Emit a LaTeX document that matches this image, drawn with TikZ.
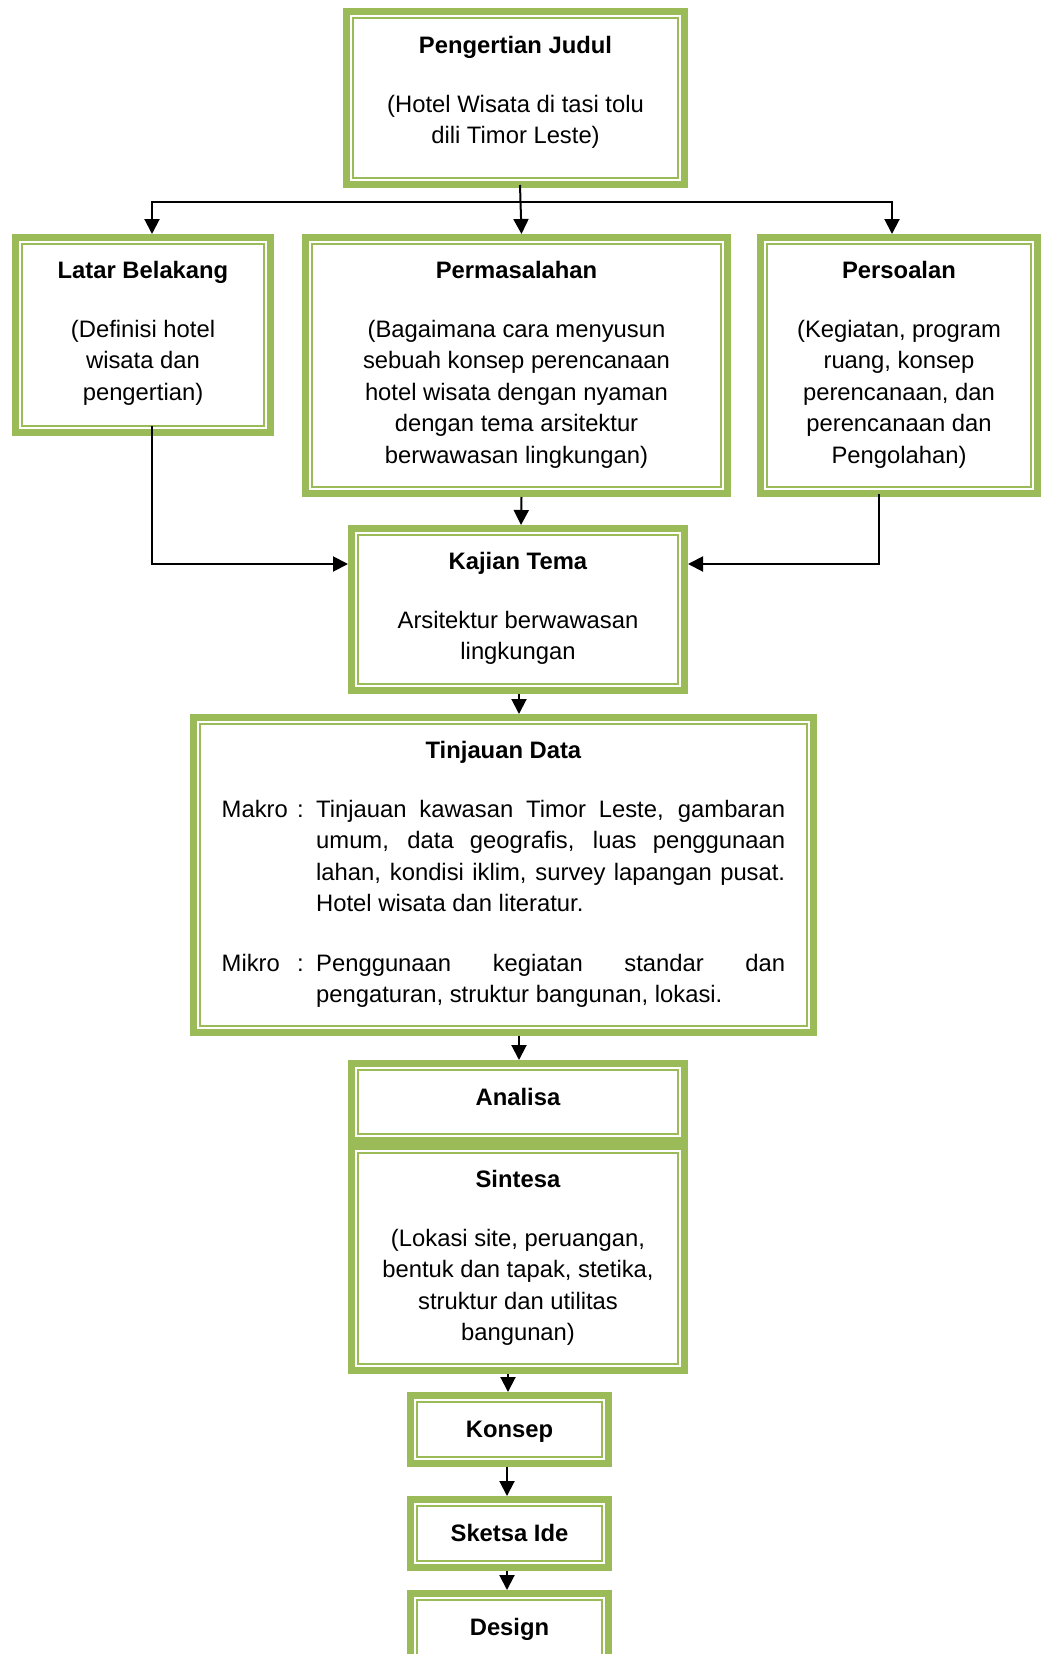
\documentclass[tikz,border=0pt]{standalone}
\usepackage{fontspec}
\setmainfont{Liberation Sans}
\usetikzlibrary{arrows.meta}
\definecolor{lgreen}{HTML}{9BBB59}
\newcommand{\bodyfont}{\fontsize{23.8}{31.6}\selectfont}
\newcommand{\lines}[1]{\begin{tabular}[t]{@{}c@{}}#1\end{tabular}}
\newcommand{\gap}{\\[27.4pt]}
\tikzset{
  % thick-thin green frame
  gbox/.style={draw=lgreen, line width=7pt, fill=white, inner sep=0pt,
    path picture={\draw[lgreen, line width=1.6pt]
      ([shift={(6.3pt,-6.3pt)}]path picture bounding box.north west) rectangle
      ([shift={(-6.3pt,6.3pt)}]path picture bounding box.south east);}},
  txt/.style={inner sep=0pt, anchor=base, font=\bodyfont},
  arr/.style={draw=black, line width=2pt, -{Triangle[length=15pt,width=15pt]}}
}
\begin{document}
\begin{tikzpicture}[x=1pt, y=-1pt]
\clip (0,0) rectangle (1042,1654);
\fill[white] (0,0) rectangle (1042,1654);

% frames
\node[gbox, minimum width=338pt, minimum height=173pt] (pj) at (515.5,98) {};
\node[gbox, minimum width=255pt, minimum height=195pt] (lb) at (143,335) {};
\node[gbox, minimum width=422pt, minimum height=256pt] (pm) at (516.5,365.5) {};
\node[gbox, minimum width=277pt, minimum height=256pt] (ps) at (899,365.5) {};
\node[gbox, minimum width=333pt, minimum height=162pt] (kt) at (518,609.5) {};
\node[gbox, minimum width=620pt, minimum height=315pt] (td) at (503.5,875) {};
\node[gbox, minimum width=333pt, minimum height=77pt] (an) at (518,1102) {};
\node[gbox, minimum width=333pt, minimum height=224pt] (si) at (518,1258.5) {};
\node[gbox, minimum width=198pt, minimum height=68pt] (ko) at (509.5,1429.5) {};
\node[gbox, minimum width=198pt, minimum height=68pt] (sk) at (509.5,1533.5) {};
\node[gbox, minimum width=198pt, minimum height=68pt] (de) at (509.5,1627.5) {};

% texts
\node[txt] (pjT) at (515.5,53) {\lines{\textbf{Pengertian Judul}\gap (Hotel Wisata di tasi tolu\\ dili Timor Leste)}};
\node[txt] (lbT) at (143,278) {\lines{\textbf{Latar Belakang}\gap (Definisi hotel\\ wisata dan\\ pengertian)}};
\node[txt] (pmT) at (516.5,278) {\lines{\textbf{Permasalahan}\gap (Bagaimana cara menyusun\\ sebuah konsep perencanaan\\ hotel wisata dengan nyaman\\ dengan tema arsitektur\\ berwawasan lingkungan)}};
\node[txt] (psT) at (899,278) {\lines{\textbf{Persoalan}\gap (Kegiatan, program\\ ruang, konsep\\ perencanaan, dan\\ perencanaan dan\\ Pengolahan)}};
\node[txt] (ktT) at (518,569) {\lines{\textbf{Kajian Tema}\gap Arsitektur berwawasan\\ lingkungan}};
\node[txt] (tdT) at (503.5,758) {\textbf{Tinjauan Data}};
\node[txt, anchor=base west] (makL) at (221.5,817) {Makro};
\node[txt] (makC) at (300.5,817) {:};
\node[txt, anchor=base west] (makP) at (316,817) {\parbox[t]{469pt}{Tinjauan kawasan Timor Leste, gambaran\linebreak umum, data geografis, luas penggunaan\linebreak lahan, kondisi iklim, survey lapangan pusat.\linebreak Hotel wisata dan literatur.}};
\node[txt, anchor=base west] (mikL) at (221.5,971) {Mikro};
\node[txt] (mikC) at (300.5,971) {:};
\node[txt, anchor=base west] (mikP) at (316,971) {\parbox[t]{469pt}{Penggunaan kegiatan standar dan\linebreak pengaturan, struktur bangunan, lokasi.}};
\node[txt] (anT) at (518,1105) {\textbf{Analisa}};
\node[txt] (siT) at (518,1187) {\lines{\textbf{Sintesa}\gap (Lokasi site, peruangan,\\ bentuk dan tapak, stetika,\\ struktur dan utilitas\\ bangunan)}};
\node[txt] (koT) at (509.5,1437) {\textbf{Konsep}};
\node[txt] (skT) at (509.5,1541) {\textbf{Sketsa Ide}};
\node[txt] (deT) at (509.5,1635) {\textbf{Design}};

% connectors
\coordinate (split) at (521,202);
\draw[arr] ([shift={(4.5pt,3pt)}]pj.south) -- ([xshift=5pt]pm.north);
\draw[arr] (split) -| ([xshift=9pt]lb.north);
\draw[arr] (split) -| ([xshift=-7pt]ps.north);
\draw[arr] ([shift={(9pt,10pt)}]lb.south) |- ([yshift=45.5pt]kt.west);
\draw[arr] ([shift={(-20pt,3pt)}]ps.south) |- ([yshift=45.5pt]kt.east);
\draw[arr] ([xshift=5pt]pm.south) -- ([xshift=3pt]kt.north);
\draw[arr] ([xshift=1pt]kt.south) -- ([xshift=15.5pt]td.north);
\draw[arr] ([xshift=15.5pt]td.south) -- ([xshift=1pt]an.north);
\draw[arr] ([xshift=-10pt]si.south) -- ([xshift=-1.5pt]ko.north);
\draw[arr] ([xshift=-2.5pt]ko.south) -- ([xshift=-2.5pt]sk.north);
\draw[arr] ([xshift=-2.5pt]sk.south) -- ([xshift=-2.5pt]de.north);
\end{tikzpicture}
\end{document}
